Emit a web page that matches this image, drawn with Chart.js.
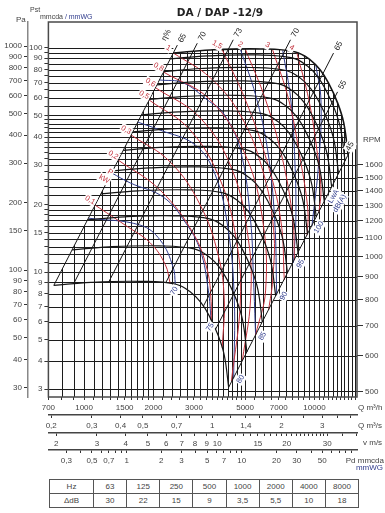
<!DOCTYPE html>
<html>
<head>
<meta charset="utf-8">
<title>DA / DAP -12/9</title>
<script src="https://cdn.jsdelivr.net/npm/chart.js@4.4.1/dist/chart.umd.min.js"></script>
<style>
  html, body { margin: 0; padding: 0; background: #fff; }
  #page { position: relative; width: 385px; height: 513px; overflow: hidden; }
  #chart { position: absolute; left: 0; top: 0; }
  #octave { position: absolute; left: 49px; top: 479px; width: 310px; border-collapse: collapse; table-layout: fixed;
            font: 8px 'Liberation Sans', Arial, sans-serif; color: #444; }
  #octave td { border: 1px solid #555; height: 13px; padding: 0; text-align: center; }
  #octave td:first-child { width: 43px; }
</style>
</head>
<body>
<div id="page">
  <canvas id="chart" width="385" height="475"></canvas>
  <table id="octave"><tbody></tbody></table>
</div>
<script>
// values: Q in m3/h, static pressure in mmWG

// grid / tick values
const qGrid = [700, 800, 900, 1000, 1100, 1200, 1300, 1400, 1500, 1600, 1700, 1800, 1900, 2000,
  2200, 2400, 2600, 2800, 3000, 3200, 3400, 3600, 3800, 4000, 4200, 4400, 4600, 4800, 5000,
  5500, 6000, 6500, 7000, 7500, 8000, 8500, 9000, 9500, 10000, 10500, 11000, 11500, 12000,
  12500, 13000, 13500, 14000, 14500, 15000];
const qLabels = [700, 1000, 1500, 2000, 3000, 5000, 7000, 10000];
const pGrid = [3, 4, 5, 6, 7, 8, 9, 10, 11, 12, 13, 14, 15, 16, 17, 18, 19, 20, 22, 24, 26, 28,
  30, 32, 34, 36, 38, 40, 42, 44, 46, 48, 50, 55, 60, 65, 70, 75, 80, 85, 90, 95, 100];
const pLabels = [3, 4, 5, 6, 7, 8, 9, 10, 15, 20, 30, 40, 50, 60, 70, 80, 90, 100];
const paTicks = [30, 40, 50, 60, 70, 80, 90, 100, 150, 200, 300, 400, 500, 600, 700, 800, 900, 1000];
const rpmTicks = [500, 600, 700, 800, 900, 1000, 1100, 1200, 1300, 1400, 1500, 1600];
const qsTicks = [0.2, 0.3, 0.4, 0.5, 0.6, 0.7, 0.8, 0.9, 1, 1.2, 1.4, 1.6, 1.8, 2, 2.5, 3, 3.5, 4];
const qsLabels = [0.2, 0.3, 0.4, 0.5, 0.7, 1, 1.4, 2, 3];
const vTicks = [2, 3, 4, 5, 6, 7, 8, 9, 10, 11, 12, 13, 14, 15, 16, 17, 18, 19, 20, 21, 22, 23, 24,
  25, 26, 27, 28, 29, 30, 35, 40];
const vLabels = [2, 3, 4, 5, 6, 7, 8, 9, 10, 15, 20, 30];
const pdTicks = [0.3, 0.4, 0.5, 0.6, 0.7, 0.8, 0.9, 1, 2, 3, 4, 5, 6, 7, 8, 9, 10, 20, 30, 40, 50, 60, 70, 80, 90];
const pdLabels = [0.3, 0.5, 0.7, 1, 2, 3, 5, 7, 10, 20, 30, 50];

// octave band correction table
const hzBands = ['63', '125', '250', '500', '1000', '2000', '4000', '8000'];
const deltaDb = ['30', '22', '15', '9', '3,5', '5,5', '10', '18'];

// fan curves, one per speed
const fanCurves = [
  { rpm: 500, pts: [[739, 8.72], [1070, 9.00], [1764, 9.09], [2506, 8.82], [2912, 8.11], [3212, 7.32], [3485, 6.41], [3818, 5.22], [4061, 4.25], [4242, 3.06]] },
  { rpm: 600, pts: [[887, 12.56], [1284, 12.96], [2116, 13.09], [3007, 12.69], [3495, 11.68], [3855, 10.54], [4182, 9.23], [4582, 7.52], [4873, 6.12], [5091, 4.40]] },
  { rpm: 700, pts: [[1035, 17.10], [1498, 17.64], [2469, 17.82], [3508, 17.28], [4077, 15.89], [4497, 14.34], [4879, 12.56], [5345, 10.24], [5685, 8.33], [5939, 5.99]] },
  { rpm: 800, pts: [[1183, 22.33], [1712, 23.04], [2822, 23.27], [4010, 22.57], [4659, 20.76], [5139, 18.74], [5576, 16.41], [6109, 13.38], [6497, 10.88], [6788, 7.83]] },
  { rpm: 900, pts: [[1331, 28.26], [1925, 29.16], [3175, 29.45], [4511, 28.56], [5242, 26.27], [5782, 23.71], [6273, 20.77], [6873, 16.93], [7309, 13.78], [7636, 9.91]] },
  { rpm: 1000, pts: [[1479, 34.89], [2139, 36.00], [3527, 36.36], [5012, 35.26], [5824, 32.43], [6424, 29.27], [6970, 25.64], [7636, 20.90], [8121, 17.01], [8485, 12.23]] },
  { rpm: 1100, pts: [[1627, 42.22], [2353, 43.56], [3880, 44.00], [5513, 42.67], [6407, 39.24], [7067, 35.42], [7667, 31.02], [8400, 25.29], [8933, 20.58], [9333, 14.80]] },
  { rpm: 1200, pts: [[1775, 50.25], [2567, 51.84], [4233, 52.36], [6015, 50.78], [6989, 46.70], [7709, 42.16], [8364, 36.92], [9164, 30.10], [9745, 24.49], [10182, 17.61]] },
  { rpm: 1300, pts: [[1922, 58.97], [2781, 60.83], [4585, 61.45], [6516, 59.59], [7572, 54.81], [8352, 49.47], [9061, 43.33], [9927, 35.32], [10558, 28.74], [11030, 20.67]] },
  { rpm: 1400, pts: [[2070, 68.39], [2995, 70.55], [4938, 71.27], [7017, 69.11], [8154, 63.57], [8994, 57.38], [9758, 50.25], [10691, 40.96], [11370, 33.33], [11879, 23.97]] },
  { rpm: 1500, pts: [[2218, 78.51], [3209, 80.99], [5291, 81.82], [7518, 79.34], [8736, 72.98], [9636, 65.87], [10455, 57.69], [11455, 47.03], [12182, 38.26], [12727, 27.52]] },
  { rpm: 1600, pts: [[2366, 89.33], [3423, 92.15], [5644, 93.09], [8019, 90.27], [9319, 83.03], [10279, 74.94], [11152, 65.63], [12218, 53.50], [12994, 43.54], [13576, 31.31]] },
];
// outer (max speed) curve, bounds the field
const topCurve = [[2440, 95.0], [3530, 98.0], [5820, 99.0], [8270, 96.0], [9610, 88.3], [10600, 79.7], [11500, 69.8], [12600, 56.9], [13400, 46.3], [14000, 33.3]];

// efficiency lines (eta %)
const effLines = [
  { eta: '65', pts: [[739, 8.72], [2540, 103]] },
  { eta: '70', pts: [[900, 8.85], [3100, 105]] },
  { eta: '73', pts: [[1280, 9.04], [4440, 108.8]] },
  { eta: '70', pts: [[2260, 8.95], [7870, 108.8]] },
  { eta: '65', pts: [[3300, 7.06], [12100, 94.9]] },
  { eta: '55', pts: [[3720, 5.55], [12600, 63.7]] },
  { eta: '45', pts: [[4242, 3.06], [14400, 35.3]] },
];

// absorbed power (kW)
const powerCurves = [
  { kw: '0,1', pts: [[1116, 19.9], [1507, 16.2], [1936, 13.5], [2251, 10.8], [2364, 8.9]] },
  { kw: '0,2', pts: [[1407, 31.6], [2139, 23.2], [2977, 14.9], [3427, 10.2], [3560, 7.4], [3566, 6.1]] },
  { kw: '0,3', pts: [[1600, 40.9], [2364, 31.0], [3194, 19.9], [3822, 11.9], [4060, 7.5], [3978, 4.6]] },
  { kw: '0,5', pts: [[1916, 58.6], [2889, 43.0], [3899, 25.8], [4580, 13.9], [4770, 7.5], [4360, 3.26]] },
  { kw: '0,6', pts: [[2041, 66.5], [3194, 48.7], [4400, 28.5], [5172, 13.9], [5278, 7.5], [4867, 4.04]] },
  { kw: '0,8', pts: [[2212, 78.1], [3531, 58.6], [5017, 33.3], [5957, 17.1], [6139, 8.31], [5552, 5.23]] },
  { kw: '1', pts: [[2440, 95], [3531, 73.6], [4770, 50.2], [5957, 28.5], [6653, 15.4], [6586, 9.21], [6325, 6.77]] },
  { kw: '1,5', pts: [[3978, 98.2], [5017, 58.6], [6200, 31.6], [7138, 17.1], [7400, 9.21]] },
  { kw: '2', pts: [[5017, 98.5], [6139, 58.6], [7283, 31.6], [8055, 17.1], [8190, 11.3]] },
  { kw: '3', pts: [[6586, 98], [7737, 58.6], [8692, 31.6], [9363, 18.9], [9300, 14.6]] },
  { kw: '4', pts: [[8386, 95.3], [9457, 58.6], [10250, 35.0], [10671, 23.2], [10458, 18.5]] },
];

// sound power LwA dB(A)
const noiseCurves = [
  { db: '70', pts: [[1044, 17.4], [1751, 16.2], [2139, 13.9], [2437, 10.5], [2489, 8.85]] },
  { db: '75', pts: [[1317, 27.7], [1585, 25.0], [2207, 21.6], [2747, 16.7], [3194, 12.5], [3461, 8.31], [3560, 6.1]] },
  { db: '80', pts: [[1710, 46.7], [2139, 43.0], [3038, 36.9], [3709, 27.2], [4225, 15.4], [4489, 7.5], [4460, 3.36]] },
  { db: '85', pts: [[2124, 72], [2693, 69.9], [3427, 58.6], [4018, 51.3], [4770, 35.0], [5278, 17.1], [5440, 9.21], [5552, 5.23]] },
  { db: '90', pts: [[4770, 98.6], [5552, 61.7], [6263, 35.0], [6720, 17.1], [6856, 7.9]] },
  { db: '95', pts: [[7283, 97.5], [7895, 58.6], [8219, 31.6], [8302, 17.1], [8110, 11.0]] },
  { db: '100', pts: [[10148, 83.6], [10671, 58.6], [10458, 31.6], [9750, 16.0]] },
];
const lwaTagAt = [11400, 22];

// axis ranges (mm scale and the ones tied to it)
const Q_MIN = 700, Q_MAX = 15300;
const P_MIN = 2.77, P_MAX = 130.6;
const PA_PER_MM = 9.81;
const RPM_K = 291.8;          // rpm = k * sqrt(p)
const V_PER_Q = 1 / 378.7;    // outlet speed m/s per m3/h
const V_PD1 = 4.04;           // speed giving 1 mmWG dynamic pressure

const FONT = "'Liberation Sans Narrow','Liberation Sans',Arial,sans-serif";
const RED = '#c3313c', BLUE = '#2f3b8c', INK = '#151515';
Chart.defaults.font.family = FONT;
Chart.defaults.font.size = 8;
Chart.defaults.color = '#444';

const dec = v => String(v).replace('.', ',');

function line(pts, color, width, tension) {
  return {
    data: pts.map(([x, y]) => ({ x, y })),
    borderColor: color, borderWidth: width, tension,
    showLine: true, pointRadius: 0, pointHoverRadius: 0, fill: false,
    xAxisID: 'x', yAxisID: 'y'
  };
}

const datasets = [];
fanCurves.forEach(c => datasets.push(line(c.pts, INK, 1.2, 0.4)));
const TOP = datasets.length;
datasets.push(line(topCurve, INK, 1.6, 0.4));
effLines.forEach(e => datasets.push(line(e.pts, INK, 1, 0)));
powerCurves.forEach(c => datasets.push(line(c.pts, RED, 1, 0.4)));
noiseCurves.forEach(c => datasets.push(line(c.pts, BLUE, 1, 0.4)));

function logAxis(o) {
  const s = {
    type: 'logarithmic', bounds: 'data', min: o.min, max: o.max, position: o.position, weight: o.weight,
    afterBuildTicks: sc => { sc.ticks = o.ticks.map(v => ({ value: v })); },
    afterFit: sc => { if (o.width !== undefined) sc.width = o.width; if (o.height !== undefined) sc.height = o.height; },
    ticks: { autoSkip: false, maxRotation: 0, padding: o.padding, color: '#444', font: { size: 8 },
      callback: v => (o.labels.includes(v) ? dec(v) : '') },
    grid: { drawOnChartArea: false, drawTicks: true, tickLength: o.tick, color: '#333', lineWidth: 1 },
    border: o.border ? { display: true, color: o.border, width: 1.5 } : { display: false }
  };
  return s;
}

function bezierThrough(ctx, pts, start) {
  pts.forEach((p, i) => {
    if (i === 0) { start ? ctx.moveTo(p.x, p.y) : ctx.lineTo(p.x, p.y); return; }
    const q = pts[i - 1];
    ctx.bezierCurveTo(q.cp2x, q.cp2y, p.cp1x, p.cp1y, p.x, p.y);
  });
}

// grid of the field, clipped like on the printed sheet
const gridPlugin = {
  id: 'fanGrid',
  beforeDatasetsDraw(chart) {
    const { ctx, chartArea: a, scales } = chart;
    const X = v => scales.x.getPixelForValue(v), Y = v => scales.y.getPixelForValue(v);
    const top = chart.getDatasetMeta(TOP).dataset.points;
    const e45 = effLines[effLines.length - 1].pts;
    const lo = fanCurves[0].pts[0];
    const crisp = v => Math.round(v) + 0.5;
    ctx.save();
    ctx.strokeStyle = '#1c1c1c';
    ctx.lineWidth = 1;

    // horizontal mm lines
    ctx.save();
    ctx.beginPath();
    ctx.moveTo(a.left, a.top);
    ctx.lineTo(top[0].x, a.top);
    bezierThrough(ctx, top, false);
    ctx.lineTo(X(e45[0][0]), Y(e45[0][1]));
    ctx.lineTo(X(e45[0][0]), a.bottom);
    ctx.lineTo(a.left, a.bottom);
    ctx.closePath();
    ctx.clip();
    ctx.beginPath();
    pGrid.forEach(v => { const y = crisp(Y(v)); ctx.moveTo(a.left, y); ctx.lineTo(a.right, y); });
    ctx.stroke();
    ctx.restore();

    // vertical Q lines
    ctx.save();
    ctx.beginPath();
    ctx.moveTo(X(lo[0]), a.bottom);
    ctx.lineTo(X(lo[0]), Y(lo[1]));
    bezierThrough(ctx, top, false);
    ctx.lineTo(X(e45[1][0]), Y(e45[1][1]));
    ctx.lineTo(a.right, Y(e45[1][1]));
    ctx.lineTo(a.right, a.bottom);
    ctx.closePath();
    ctx.clip();
    ctx.beginPath();
    qGrid.forEach(v => { const x = crisp(X(v)); ctx.moveTo(x, a.top); ctx.lineTo(x, a.bottom); });
    ctx.stroke();
    ctx.restore();

    // rpm lines right of the 45% line
    ctx.save();
    ctx.beginPath();
    ctx.moveTo(X(e45[0][0]), a.bottom);
    ctx.lineTo(X(e45[0][0]), Y(e45[0][1]));
    ctx.lineTo(X(e45[1][0]), Y(e45[1][1]));
    ctx.lineTo(a.right, Y(e45[1][1]));
    ctx.lineTo(a.right, a.bottom);
    ctx.closePath();
    ctx.clip();
    ctx.beginPath();
    rpmTicks.forEach(r => { const y = crisp(scales.yRpm.getPixelForValue(r)); ctx.moveTo(a.left, y); ctx.lineTo(a.right, y); });
    ctx.stroke();
    ctx.restore();

    // frame
    ctx.strokeStyle = '#4a4a4a';
    ctx.lineWidth = 1.5;
    ctx.strokeRect(a.left, a.top, a.right - a.left, a.bottom - a.top);
    ctx.restore();
  }
};

function tag(ctx, text, x, y, color, angle, size, bg, align) {
  ctx.save();
  ctx.translate(x, y);
  ctx.rotate(angle * Math.PI / 180);
  ctx.font = size + 'px ' + FONT;
  ctx.textAlign = align || 'center';
  ctx.textBaseline = 'middle';
  if (bg) {
    const w = ctx.measureText(text).width;
    const x0 = ctx.textAlign === 'center' ? -w / 2 : (ctx.textAlign === 'right' ? -w : 0);
    ctx.fillStyle = '#fff';
    ctx.fillRect(x0 - 1, -size / 2 - 1, w + 2, size + 2);
  }
  ctx.fillStyle = color;
  ctx.fillText(text, 0, 0);
  ctx.restore();
}

const labelPlugin = {
  id: 'fanLabels',
  afterDatasetsDraw(chart) {
    const { ctx, chartArea: a, scales } = chart;
    const X = v => scales.x.getPixelForValue(v), Y = v => scales.y.getPixelForValue(v);

    effLines.forEach((e, i) => {
      const [q, p] = e.pts[e.pts.length - 1];
      if (i === effLines.length - 1) tag(ctx, e.eta, X(q) - 1, Y(p) - 3, '#222', -62, 8, true);
      else tag(ctx, e.eta, X(q) + 5, Y(p) - 7, '#222', -62, 8, true);
    });
    const e0 = effLines[0].pts[1];
    tag(ctx, 'η%', X(e0[0]) - 11, Y(e0[1]) - 10, '#222', -62, 8, true);

    powerCurves.forEach(c => {
      const [q, p] = c.pts[0];
      tag(ctx, c.kw, X(q) - 5, Y(p) - 5, RED, 30, 7.5, true);
    });
    const p2 = powerCurves[1].pts[0];
    tag(ctx, 'P', X(p2[0]) - 8, Y(p2[1]) + 12, RED, 30, 7.5, true);
    tag(ctx, 'kW', X(p2[0]) - 14, Y(p2[1]) + 19, RED, 30, 7.5, true);

    noiseCurves.forEach((c, i) => {
      const [q, p] = c.pts[c.pts.length - 1];
      if (i < 2) tag(ctx, c.db, X(q) - 1, Y(p) + 7, BLUE, -60, 7.5, true);
      else tag(ctx, c.db, X(q) + 7, Y(p) + 1, BLUE, -60, 7.5, true);
    });
    tag(ctx, 'LwA', X(lwaTagAt[0]) + 6, Y(lwaTagAt[1]) + 1, BLUE, -60, 7.5, true);
    tag(ctx, 'dB(A)', X(lwaTagAt[0]) + 12, Y(lwaTagAt[1]) + 8, BLUE, -60, 7.5, true);
  },
  afterDraw(chart) {
    const { ctx, chartArea: a, scales } = chart;
    ctx.save();
    ctx.textBaseline = 'middle';
    ctx.fillStyle = '#222';
    ctx.font = "bold 10.5px 'DejaVu Sans', sans-serif";
    ctx.textAlign = 'center';
    ctx.fillText('DA / DAP -12/9', 220, 13);

    ctx.font = '8px ' + FONT;
    ctx.fillStyle = '#444';
    ctx.textAlign = 'left';
    ctx.fillText('Pa', 16, 20);
    ctx.font = '7px ' + FONT;
    ctx.fillText('Pst', 30, 10);
    ctx.fillText('mmcda', 40, 17);
    const w = ctx.measureText('mmcda ').width;
    ctx.fillStyle = BLUE;
    ctx.fillText('/ mmWG', 40 + w, 17);

    ctx.fillStyle = '#444';
    ctx.font = '8px ' + FONT;
    const y1600 = scales.yRpm.getPixelForValue(1600);
    ctx.fillText('RPM', a.right + 6, y1600 - 25);

    const rx = a.right + 1;
    ctx.fillText('Q m³/h', rx, scales.x.top + 10.5);
    ctx.fillText('Q m³/s', rx, scales.x2.top + 11);
    ctx.fillText('v m/s', rx + 5, scales.x3.top + 10);
    ctx.textAlign = 'right';
    ctx.fillText('Pd mmcda', 384, scales.x4.top + 11);
    ctx.fillStyle = BLUE;
    ctx.fillText('mmWG', 383, scales.x4.top + 18);
    ctx.restore();
  }
};

new Chart(document.getElementById('chart'), {
  type: 'scatter',
  data: { datasets },
  options: {
    responsive: false,
    animation: false,
    events: [],
    layout: { padding: { top: 22, left: 0, right: 0, bottom: 0 } },
    plugins: { legend: { display: false }, tooltip: { enabled: false }, title: { display: false } },
    scales: {
      x: logAxis({ min: Q_MIN, max: Q_MAX, position: 'bottom', weight: 0, ticks: qGrid, labels: qLabels, height: 18, tick: 3, padding: 3 }),
      x2: logAxis({ min: Q_MIN / 3600, max: Q_MAX / 3600, position: 'bottom', weight: 1, ticks: qsTicks, labels: qsLabels, height: 18, tick: 3, padding: 3, border: '#444' }),
      x3: logAxis({ min: Q_MIN * V_PER_Q, max: Q_MAX * V_PER_Q, position: 'bottom', weight: 2, ticks: vTicks, labels: vLabels, height: 17, tick: 3, padding: 3, border: '#444' }),
      x4: logAxis({ min: Math.pow(Q_MIN * V_PER_Q / V_PD1, 2), max: Math.pow(Q_MAX * V_PER_Q / V_PD1, 2), position: 'bottom', weight: 3, ticks: pdTicks, labels: pdLabels, height: 25, tick: 3, padding: 3, border: '#444' }),
      y: logAxis({ min: P_MIN, max: P_MAX, position: 'left', weight: 0, ticks: pGrid, labels: pLabels, width: 20.4, tick: 4, padding: 2 }),
      yPa: logAxis({ min: P_MIN * PA_PER_MM, max: P_MAX * PA_PER_MM, position: 'left', weight: 1, ticks: paTicks, labels: paTicks, width: 28, tick: 4, padding: 2, border: '#888' }),
      yRpm: logAxis({ min: RPM_K * Math.sqrt(P_MIN), max: RPM_K * Math.sqrt(P_MAX), position: 'right', weight: 0, ticks: rpmTicks, labels: rpmTicks, width: 28, tick: 6, padding: 2 })
    }
  },
  plugins: [gridPlugin, labelPlugin]
});

const tb = document.querySelector('#octave tbody');
[['Hz', hzBands], ['ΔdB', deltaDb]].forEach(([head, vals]) => {
  const tr = document.createElement('tr');
  [head, ...vals].forEach(t => { const td = document.createElement('td'); td.textContent = t; tr.appendChild(td); });
  tb.appendChild(tr);
});
</script>
</body>
</html>
